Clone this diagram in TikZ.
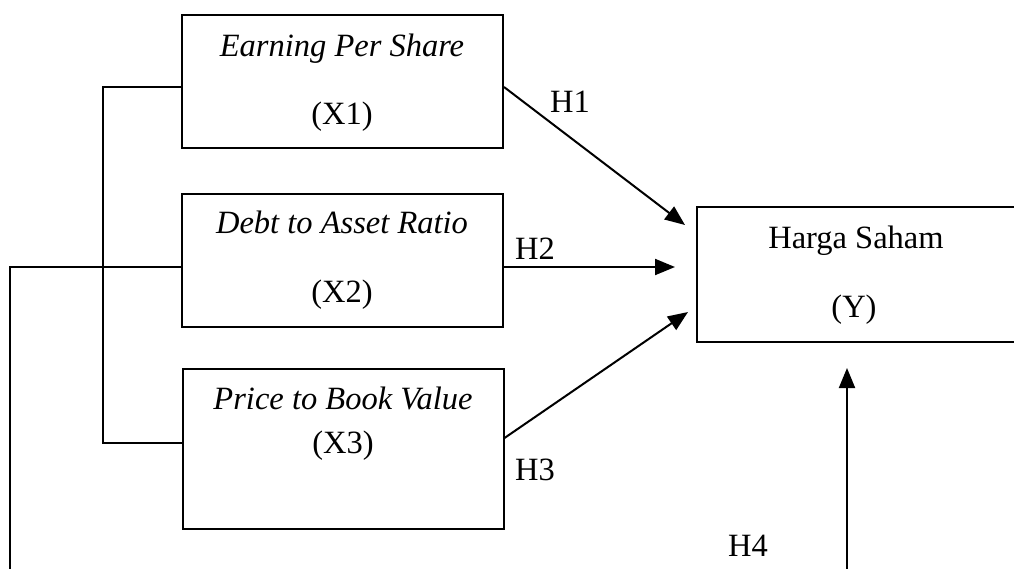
\documentclass[tikz,border=0pt]{standalone}
\usepackage{fontspec}
\setmainfont{Liberation Serif}
\usetikzlibrary{arrows.meta,calc}
\begin{document}
\begin{tikzpicture}[x=1pt,y=-1pt,
  box/.style={draw,line width=2pt,rectangle,inner sep=0pt,minimum width=321pt},
  txt/.style={anchor=base,inner sep=0pt,font=\fontsize{32.5}{38}\selectfont},
  conn/.style={line width=2pt},
  arr/.style={line width=2pt,-{Triangle[length=20pt,width=16pt]}}]
\useasboundingbox (0,0) rectangle (1014,568);
\clip (0,0) rectangle (1014,568);
\node[box,minimum height=133pt] (x1) at (342.5,81.5) {};
\node[box,minimum height=133pt] (x2) at (342.5,260) {};
\node[box,minimum height=160pt] (x3) at (343,449) {};
\node[box,minimum width=330pt,minimum height=135pt] (y) at (862,274.5) {};
% texts
\node[txt] (t1a) at (342,56) {\itshape Earning Per Share};
\node[txt] (t1b) at (342,124) {(X1)};
\node[txt] (t2a) at (342,233) {\itshape Debt to Asset Ratio};
\node[txt] (t2b) at (342,302) {(X2)};
\node[txt] (t3a) at (343,409) {\itshape Price to Book Value};
\node[txt] (t3b) at (343,453) {(X3)};
\node[txt] (tya) at (856,248) {Harga Saham};
\node[txt] (tyb) at (854,317) {(Y)};
\node[txt] (h1) at (570,112) {H1};
\node[txt] (h2) at (535,259) {H2};
\node[txt] (h3) at (535,480) {H3};
\node[txt] (h4) at (748,556) {H4};
% coordinates
\coordinate (e1) at (685,225);
\coordinate (e2) at (675,267);
\coordinate (e3) at (688,312);
\coordinate (b1) at (103,87);
\coordinate (b3) at (103,443);
\coordinate (o1) at (10,267);
\coordinate (o2) at (10,575);
\coordinate (h4s) at (847,575);
\coordinate (h4e) at (847,368);
% arrows
\draw[arr] ($(x1.east)+(0,5.5)$) -- (e1);
\draw[arr] ($(x2.east)+(0,7)$) -- (e2);
\draw[arr] ($(x3.east)+(0,-11)$) -- (e3);
\draw[arr] (h4s) -- (h4e);
% brackets
\draw[conn] ($(x1.west)+(0,5.5)$) -- (b1) -- (b3) -- ($(x3.west)+(0,-6)$);
\draw[conn] ($(x2.west)+(0,7)$) -- (o1) -- (o2);
\end{tikzpicture}
\end{document}
